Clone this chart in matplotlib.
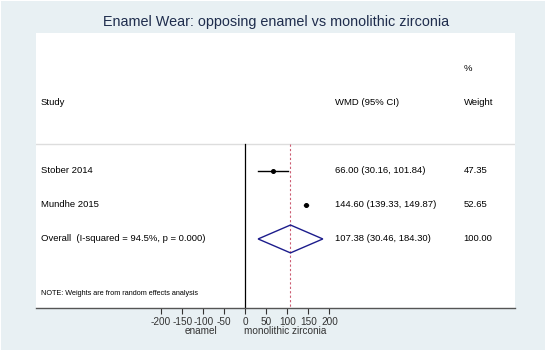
import matplotlib
matplotlib.use("Agg")
import matplotlib.pyplot as plt
from matplotlib.patches import Rectangle, Polygon
import matplotlib.transforms as mtransforms

plt.rcParams['font.family'] = ['Liberation Sans', 'DejaVu Sans']

# study level data
studies = ['Stober 2014', 'Mundhe 2015']
wmd = [66.00, 144.60]
ci_low = [30.16, 139.33]
ci_high = [101.84, 149.87]
weights = [47.35, 52.65]

# pooled estimate
overall_label = 'Overall  (I-squared = 94.5%, p = 0.000)'
overall_wmd = 107.38
overall_low = 30.46
overall_high = 184.30
overall_weight = 100.00

ticks = [-200, -150, -100, -50, 0, 50, 100, 150, 200]

BG = '#e8f0f3'
TXT = 'black'
W, H = 550, 357

fig = plt.figure(figsize=(W / 100, H / 100), dpi=100, facecolor='white')
fig.patches.append(Rectangle((1 / W, 1 - 350 / H), 544 / W, 349 / H,
                             transform=fig.transFigure, facecolor=BG,
                             edgecolor='none', zorder=-5))

# white plot region in pixels: x 35.5..515, y 33.3..308.3
ax = fig.add_axes([35.5 / W, 1 - 308.3 / H, (515 - 35.5) / W, (308.3 - 33.3) / H])
ax.set_zorder(1)
ax.set_facecolor('white')
ax.set_xlim(-498.6, 641)
ax.set_ylim(4.04, -4.05)

for s in ['top', 'right', 'left']:
    ax.spines[s].set_visible(False)
ax.spines['bottom'].set_color('#555555')
ax.spines['bottom'].set_linewidth(1.0)
ax.set_yticks([])
ax.set_xticks(ticks)
ax.set_xticklabels([str(t) for t in ticks])
ax.tick_params(axis='x', direction='out', length=4.5, width=0.8,
               labelsize=7.2, pad=2, colors='#333333')

sep = -0.785
ax.axhline(sep, color='#dddddd', lw=1.0)
ax.plot([0, 0], [sep, 4.04], color='black', lw=0.9, clip_on=False)
ax.plot([overall_wmd, overall_wmd], [sep, 4.04], color='#cc5c72', lw=0.8,
        ls=(0, (2, 2)))

tx = mtransforms.blended_transform_factory(ax.transAxes, ax.transData)
col_study = (41 - 35.5) / (515 - 35.5)
col_wmd = (335 - 35.5) / (515 - 35.5)
col_w = (463.5 - 35.5) / (515 - 35.5)
fs = 6.8

ax.text(col_w, -3.0, '%', transform=tx, fontsize=fs, va='center', ha='left', color=TXT)
ax.text(col_study, -2.0, 'Study', transform=tx, fontsize=fs, va='center', color=TXT)
ax.text(col_wmd, -2.0, 'WMD (95% CI)', transform=tx, fontsize=fs, va='center', color=TXT)
ax.text(col_w, -2.0, 'Weight', transform=tx, fontsize=fs, va='center', color=TXT)

for i, name in enumerate(studies):
    ax.plot([ci_low[i], ci_high[i]], [i, i], color='black', lw=1.0)
    ax.plot(wmd[i], i, 'o', color='black', ms=2.6)
    ax.text(col_study, i, name, transform=tx, fontsize=fs, va='center', color=TXT)
    ax.text(col_wmd, i, '%.2f (%.2f, %.2f)' % (wmd[i], ci_low[i], ci_high[i]),
            transform=tx, fontsize=fs, va='center', color=TXT)
    ax.text(col_w, i, '%.2f' % weights[i], transform=tx, fontsize=fs,
            va='center', color=TXT)

r = len(studies)
dh = 0.41
ax.add_patch(Polygon([(overall_low, r), (overall_wmd, r - dh),
                      (overall_high, r), (overall_wmd, r + dh)],
                     closed=True, fill=False, edgecolor='#1c1c8c', lw=1.0, zorder=3))
ax.text(col_study, r, overall_label, transform=tx, fontsize=fs, va='center', color=TXT)
ax.text(col_wmd, r, '%.2f (%.2f, %.2f)' % (overall_wmd, overall_low, overall_high),
        transform=tx, fontsize=fs, va='center', color=TXT)
ax.text(col_w, r, '%.2f' % overall_weight, transform=tx, fontsize=fs,
        va='center', color=TXT)

ax.text(col_study, 3.59, 'NOTE: Weights are from random effects analysis',
        transform=tx, fontsize=5.2, va='center', color=TXT)

# axis side labels
bx = mtransforms.blended_transform_factory(ax.transData, fig.transFigure)
ax.text(-105, 1 - 331 / H, 'enamel', transform=bx, ha='center', va='center',
        fontsize=7.2, color='#333333')
ax.text(95, 1 - 331 / H, 'monolithic zirconia', transform=bx, ha='center',
        va='center', fontsize=7.2, color='#333333')

fig.text(276 / W, 1 - 22 / H, 'Enamel Wear: opposing enamel vs monolithic zirconia',
         ha='center', va='center', fontsize=10.4, color='#1f2d4d')

fig.savefig('out.png', dpi=100, facecolor='white')
